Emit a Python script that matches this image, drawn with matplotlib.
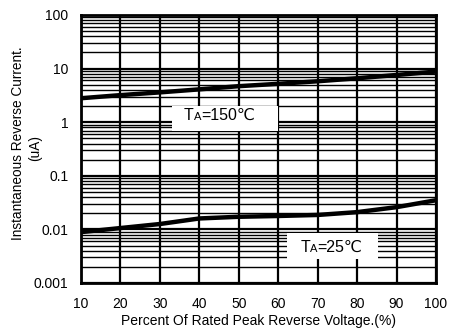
import numpy as np
import matplotlib
matplotlib.use('Agg')
import matplotlib.pyplot as plt
from matplotlib.ticker import FixedLocator, NullFormatter
from matplotlib.patches import Rectangle

plt.rcParams['font.family'] = ['Liberation Sans', 'DejaVu Sans']

# data
voltage = [10, 20, 30, 40, 50, 60, 70, 80, 90, 100]
current_150 = [2.8, 3.2, 3.6, 4.1, 4.7, 5.2, 5.8, 6.6, 7.6, 8.8]
current_25 = [0.0089, 0.0106, 0.0126, 0.0160, 0.0172, 0.0178, 0.0186, 0.021, 0.026, 0.035]
xticks = [10, 20, 30, 40, 50, 60, 70, 80, 90, 100]
yticks = [0.001, 0.01, 0.1, 1, 10, 100]
ytick_labels = ['0.001', '0.01', '0.1', '1', '10', '100']

W, H = 451, 334
fig = plt.figure(figsize=(W / 100, H / 100), dpi=100)
ax = fig.add_axes([81 / W, (H - 283) / H, 355 / W, 268 / H])

ax.set_yscale('log')
ax.set_xlim(10, 100)
ax.set_ylim(0.001, 100)

# grid
ax.set_xticks(xticks)
ax.set_yticks(yticks)
ax.set_yticklabels(ytick_labels)
minor = [m * 10.0 ** e for e in range(-3, 2) for m in range(2, 10)]
ax.yaxis.set_minor_locator(FixedLocator(minor))
ax.yaxis.set_minor_formatter(NullFormatter())
ax.grid(True, which='major', color='black', linewidth=1.6)
ax.grid(True, which='minor', axis='y', color='black', linewidth=1.0)
ax.set_axisbelow(True)
ax.tick_params(which='both', length=0, labelsize=10)
ax.tick_params(axis='y', pad=9)
ax.tick_params(axis='x', pad=10)

for s in ax.spines.values():
    s.set_linewidth(2)
    s.set_zorder(5)

ax.plot(voltage, current_150, color='black', linewidth=3.2, solid_capstyle='butt', zorder=3)
ax.plot(voltage, current_25, color='black', linewidth=3.2, solid_capstyle='butt', zorder=3)

# white label boxes covering the grid
ax.add_patch(Rectangle((33.1, 0.686), 59.9 - 33.1, 2.0 - 0.686, facecolor='white',
                       edgecolor='none', zorder=2))
ax.add_patch(Rectangle((62.2, 0.0028), 85.3 - 62.2, 0.00857 - 0.0028, facecolor='white',
                       edgecolor='none', zorder=2))


def temp_label(x, y, rest):
    # "T" with a small "A" after it, then the rest of the label
    ax.annotate('T', (x, y), fontsize=11.5, ha='left', va='baseline', zorder=4)
    ax.annotate('A', (x, y), xytext=(7.0, 0), textcoords='offset points',
                fontsize=8, ha='left', va='baseline', zorder=4)
    ax.annotate(rest, (x, y), xytext=(12.4, 0), textcoords='offset points',
                fontsize=11.5, ha='left', va='baseline', zorder=4)


temp_label(36.1, 1.12, '=150℃')
temp_label(65.6, 0.0038, '=25℃')

ax.set_xlabel('Percent Of Rated Peak Reverse Voltage.(%)', fontsize=10, labelpad=2)
fig.text(18 / W, 1 - 143 / H, 'Instantaneous Reverse Current.', fontsize=9.8,
         rotation=90, ha='center', va='center')
fig.text(35 / W, 1 - 148 / H, '(uA)', fontsize=9.8, rotation=90, ha='center', va='center')

fig.savefig('out.png', dpi=100)
